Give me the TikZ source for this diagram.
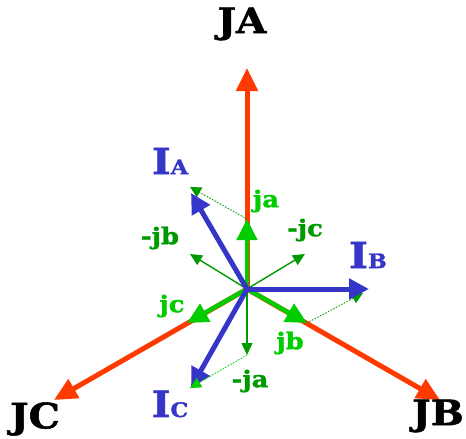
\documentclass[tikz,border=0pt]{standalone}
\usepackage{fontspec}
\setmainfont{DejaVu Serif}
\newfontfamily\labfont{DejaVu Serif}[UprightFont={* Bold},FakeBold=1.5,FakeStretch=1.12]
\usetikzlibrary{arrows.meta}
\definecolor{redv}{HTML}{FF3A00}
\definecolor{bluev}{HTML}{3535C8}
\definecolor{lgreen}{HTML}{00CC00}
\definecolor{dgreen}{HTML}{009900}
\begin{document}
\begin{tikzpicture}[x=1pt,y=-1pt,
  redvec/.style={draw=redv,line width=5pt,-{Triangle[length=23pt,width=21pt]},color=redv},
  bluevec/.style={draw=bluev,line width=5pt,-{Triangle[length=20pt,width=20pt]},color=bluev},
  gvec/.style={draw=lgreen,line width=4.5pt,-{Triangle[length=21pt,width=20pt]},color=lgreen},
  thinvec/.style={draw=dgreen,line width=1.4pt,-{Triangle[length=12pt,width=11pt]},color=dgreen},
  dotvec/.style={line width=1pt,dotted,-{Triangle[length=11pt,width=11pt]}},
  biglab/.style={font=\labfont\fontsize{35}{35}\selectfont,inner sep=0pt},
  lab/.style={font=\labfont\fontsize{23}{23}\selectfont,inner sep=0pt},
  ilab/.style={text=bluev,font=\labfont,inner sep=0pt},
]
\useasboundingbox (0,0) rectangle (466,439);
\coordinate (O) at (247,289);
\coordinate (JAt) at (247,68);
\coordinate (JBt) at (440,400);
\coordinate (JCt) at (54,400);
\coordinate (IAt) at (191,193);
\coordinate (IBt) at (369,289);
\coordinate (ICt) at (191,388);
\coordinate (jat) at (247,219);
\coordinate (jbt) at (307,323);
\coordinate (jct) at (187,323);
\coordinate (mjat) at (247,355);
\coordinate (mjbt) at (190,254);
\coordinate (mjct) at (305,254);
\coordinate (dA) at (190,187);
\coordinate (dB) at (363,293);
\coordinate (dC) at (190,388);
% red
\draw[redvec] (O) -- (JAt);
\draw[redvec] (O) -- (JBt);
\draw[redvec] (O) -- (JCt);
% thin dark green
\draw[thinvec] (O) -- (mjat);
\draw[thinvec] (O) -- (mjbt);
\draw[thinvec] (O) -- (mjct);
% dotted
\draw[dotvec,draw=dgreen,fill=dgreen] (jat) -- (dA);
\draw[dotvec,draw=dgreen,fill=dgreen] (jbt) -- (dB);
% green
\draw[gvec] (O) -- (jat);
\draw[gvec] (O) -- (jbt);
\draw[gvec] (O) -- (jct);
% blue
\draw[bluevec] (O) -- (IAt);
\draw[bluevec] (O) -- (IBt);
\draw[bluevec] (O) -- (ICt);
\draw[dotvec,draw=lgreen,fill=lgreen,-{Triangle[length=11pt,width=11pt,color=lgreen]}] (mjat) -- (dC);
% labels
\node[biglab] (JA) at (242,24) {JA};
\node[biglab] (JB) at (438,416) {JB};
\node[biglab] (JC) at (35,419) {JC};
\node[ilab] (IA) at (170,161) {\fontsize{36}{36}\selectfont I\fontsize{20}{20}\selectfont A};
\node[ilab] (IB) at (368,255) {\fontsize{36}{36}\selectfont I\fontsize{20}{20}\selectfont B};
\node[ilab] (IC) at (170,404) {\fontsize{36}{36}\selectfont I\fontsize{20}{20}\selectfont C};
\node[lab,text=lgreen] (ja) at (266,201) {ja};
\node[lab,text=lgreen] (jb) at (290,343) {jb};
\node[lab,text=lgreen] (jc) at (172,306) {jc};
\node[lab,text=dgreen] (mja) at (250,381) {-ja};
\node[lab,text=dgreen] (mjb) at (160,238) {-jb};
\node[lab,text=dgreen] (mjc) at (305,230) {-jc};
\end{tikzpicture}
\end{document}
